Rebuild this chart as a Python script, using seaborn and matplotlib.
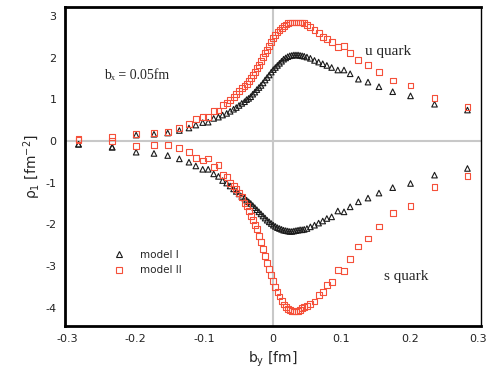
import numpy as np
import matplotlib
matplotlib.use("Agg")
import matplotlib.pyplot as plt
from matplotlib.lines import Line2D
from matplotlib.ticker import MultipleLocator
import pandas as pd
import seaborn as sns

# b_y grid shared by all four series [fm]
b_y = [-0.283, -0.234, -0.199, -0.173, -0.153, -0.136, -0.122, -0.112, -0.102, -0.094,
       -0.086, -0.079, -0.073, -0.067, -0.062, -0.057, -0.053, -0.049, -0.045, -0.041,
       -0.038, -0.035, -0.032, -0.029, -0.026, -0.023, -0.020, -0.017, -0.014, -0.011,
       -0.008, -0.005, -0.002, 0.001, 0.004, 0.007, 0.010, 0.013, 0.016, 0.019,
       0.022, 0.025, 0.028, 0.031, 0.034, 0.037, 0.040, 0.043, 0.046, 0.050,
       0.055, 0.061, 0.067, 0.073, 0.079, 0.086, 0.095, 0.104, 0.113, 0.125,
       0.139, 0.155, 0.175, 0.201, 0.236, 0.284]

u_model1 = [-0.08, -0.15, 0.14, 0.16, 0.19, 0.25, 0.31, 0.38, 0.44, 0.45,
            0.54, 0.57, 0.62, 0.66, 0.71, 0.76, 0.80, 0.85, 0.90, 0.94,
            0.99, 1.02, 1.06, 1.12, 1.17, 1.23, 1.28, 1.33, 1.39, 1.46,
            1.52, 1.58, 1.65, 1.71, 1.76, 1.81, 1.86, 1.91, 1.96, 1.99,
            2.02, 2.04, 2.05, 2.06, 2.06, 2.06, 2.05, 2.04, 2.03, 2.01,
            1.98, 1.93, 1.89, 1.85, 1.81, 1.76, 1.70, 1.70, 1.61, 1.48,
            1.41, 1.30, 1.18, 1.08, 0.88, 0.74]

u_model2 = [0.04, 0.09, 0.17, 0.19, 0.22, 0.30, 0.40, 0.52, 0.58, 0.57,
            0.72, 0.73, 0.86, 0.90, 0.98, 1.06, 1.12, 1.19, 1.26, 1.32,
            1.37, 1.43, 1.50, 1.58, 1.65, 1.75, 1.83, 1.91, 2.02, 2.10,
            2.19, 2.28, 2.37, 2.46, 2.55, 2.61, 2.66, 2.71, 2.75, 2.79,
            2.82, 2.84, 2.84, 2.84, 2.84, 2.84, 2.84, 2.84, 2.83, 2.78,
            2.74, 2.66, 2.58, 2.50, 2.44, 2.38, 2.26, 2.28, 2.11, 1.94,
            1.82, 1.65, 1.45, 1.33, 1.02, 0.81]

s_model1 = [-0.08, -0.15, -0.27, -0.30, -0.35, -0.43, -0.51, -0.60, -0.68, -0.68,
            -0.79, -0.85, -0.95, -1.01, -1.08, -1.15, -1.21, -1.27, -1.33, -1.37,
            -1.42, -1.46, -1.50, -1.55, -1.60, -1.65, -1.70, -1.75, -1.80, -1.85,
            -1.90, -1.94, -1.98, -2.02, -2.05, -2.08, -2.10, -2.12, -2.14, -2.15,
            -2.16, -2.17, -2.17, -2.16, -2.15, -2.14, -2.13, -2.13, -2.12, -2.10,
            -2.06, -2.02, -1.97, -1.92, -1.86, -1.82, -1.68, -1.70, -1.58, -1.46,
            -1.37, -1.25, -1.12, -1.02, -0.82, -0.66]

s_model2 = [0.03, -0.01, -0.12, -0.10, -0.10, -0.17, -0.26, -0.41, -0.47, -0.42,
            -0.62, -0.58, -0.82, -0.86, -1.00, -1.08, -1.15, -1.25, -1.35, -1.48,
            -1.56, -1.67, -1.79, -1.89, -2.02, -2.12, -2.27, -2.42, -2.58, -2.76,
            -2.93, -3.07, -3.22, -3.35, -3.50, -3.63, -3.73, -3.83, -3.92, -3.98,
            -4.03, -4.06, -4.08, -4.09, -4.09, -4.08, -4.05, -4.01, -3.98, -3.96,
            -3.91, -3.85, -3.70, -3.63, -3.45, -3.38, -3.09, -3.11, -2.83, -2.53,
            -2.34, -2.05, -1.73, -1.56, -1.10, -0.83]

x_ticks = [-0.3, -0.2, -0.1, 0, 0.1, 0.2, 0.3]
y_ticks = [-4, -3, -2, -1, 0, 1, 2, 3]

black = "#1a1a1a"
red = "#f5503a"

sns.set_style("white")
plt.rcParams["font.family"] = ["DejaVu Sans"]
plt.rcParams["axes.unicode_minus"] = False
plt.rcParams["mathtext.default"] = "regular"

fig = plt.figure(figsize=(4.91, 3.92), dpi=100)
ax = fig.add_axes([0.132, 0.168, 0.848, 0.813])

ax.axhline(0, color="#c8c8c8", lw=1.5, zorder=0)
ax.axvline(0, color="#c8c8c8", lw=1.5, zorder=0)

series = [(u_model1, "^", black, 16), (s_model1, "^", black, 16),
          (u_model2, "s", red, 18), (s_model2, "s", red, 18)]
for vals, mk, col, size in series:
    df = pd.DataFrame({"b_y": b_y, "rho": vals})
    sns.scatterplot(data=df, x="b_y", y="rho", marker=mk, s=size,
                    facecolors="none", edgecolor=col, linewidth=0.8, ax=ax)

ax.set_xlim(-0.303, 0.304)
ax.set_ylim(-4.44, 3.2)
ax.set_xticks(x_ticks)
ax.set_yticks(y_ticks)
ax.set_xticklabels(["-0.3", "-0.2", "-0.1", "0", "0.1", "0.2", "0.3"])
ax.xaxis.set_minor_locator(MultipleLocator(0.02))
ax.yaxis.set_minor_locator(MultipleLocator(0.2))
ax.tick_params(which="both", direction="in", top=False, right=False,
               labelsize=8, colors="black")
ax.tick_params(which="major", length=5, width=1.2, pad=6)
ax.tick_params(which="minor", length=3, width=0.8)
ax.tick_params(axis="x", labelcolor="#222222")
ax.tick_params(axis="y", labelcolor="#222222")

for side in ["left", "bottom", "top"]:
    ax.spines[side].set_linewidth(2)
    ax.spines[side].set_color("black")
ax.spines["right"].set_linewidth(1)
ax.spines["right"].set_color("black")

ax.set_xlabel("b$_y$ [fm]", fontsize=10, labelpad=4)
ax.set_ylabel(r"$\rho_1$ [fm$^{-2}$]", fontsize=10, labelpad=2)

serif = ["Liberation Serif", "DejaVu Serif"]
ax.text(-0.246, 1.56, "b\u2093 = 0.05fm", fontsize=10, family=serif, va="center")
ax.text(0.134, 2.15, "u quark", fontsize=11, family=serif, va="center")
ax.text(0.162, -3.24, "s quark", fontsize=11, family=serif, va="center")

handles = [Line2D([], [], ls="", marker="^", ms=4.2, mfc="none", mec=black, mew=0.8),
           Line2D([], [], ls="", marker="s", ms=4.2, mfc="none", mec=red, mew=0.8)]
ax.legend(handles, ["model I", "model II"], loc="center left",
          bbox_to_anchor=(0.09, 0.2), frameon=False, fontsize=7.5,
          handletextpad=1.2, labelspacing=0.55, handlelength=1.5)

fig.savefig("out.png", dpi=100)
